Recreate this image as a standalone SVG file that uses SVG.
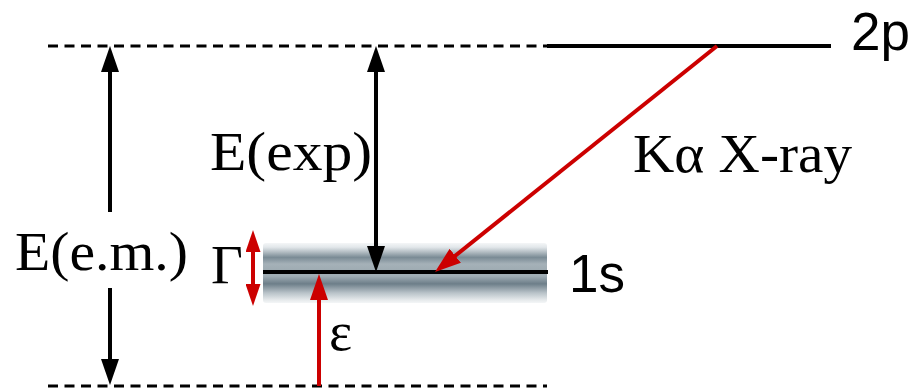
<svg xmlns="http://www.w3.org/2000/svg" width="919" height="390" viewBox="0 0 919 390">
<style>
.dash{stroke:#000;stroke-width:3;stroke-dasharray:10 6.5;fill:none}
.lvl{stroke:#000;stroke-width:4;fill:none}
.blk{stroke:#000;stroke-width:4;fill:none}
.red{stroke:#cc0000;stroke-width:4;fill:none}
.serif{font-family:"Liberation Serif","Times New Roman",serif;font-size:55px;fill:#000}
.sans{font-family:"Liberation Sans",Arial,sans-serif;font-size:53px;fill:#000}
</style>
<defs>
<marker id="ab" markerUnits="userSpaceOnUse" markerWidth="26" markerHeight="18" viewBox="0 0 26 18" refX="16" refY="9" orient="auto-start-reverse"><path d="M0,0 L26,9 L0,18 z" fill="#000"/></marker>
<marker id="ar" markerUnits="userSpaceOnUse" markerWidth="26" markerHeight="18" viewBox="0 0 26 18" refX="16" refY="9" orient="auto-start-reverse"><path d="M0,0 L26,9 L0,18 z" fill="#cc0000"/></marker>
<marker id="ars" markerUnits="userSpaceOnUse" markerWidth="22" markerHeight="15" viewBox="0 0 22 15" refX="12" refY="7.5" orient="auto-start-reverse"><path d="M0,0 L22,7.5 L0,15 z" fill="#cc0000"/></marker>
<linearGradient id="band" x1="0" y1="0" x2="0" y2="1">
<stop offset="0" stop-color="#f4f6f7"/>
<stop offset="0.07" stop-color="#e2e7ea"/>
<stop offset="0.15" stop-color="#b3bdc3"/>
<stop offset="0.24" stop-color="#7a8b95"/>
<stop offset="0.35" stop-color="#a5b1b8"/>
<stop offset="0.46" stop-color="#9eabb2"/>
<stop offset="0.55" stop-color="#a0adb4"/>
<stop offset="0.68" stop-color="#6d7e89"/>
<stop offset="0.83" stop-color="#b8c2c8"/>
<stop offset="0.95" stop-color="#e6eaec"/>
<stop offset="1" stop-color="#f4f6f7"/>
</linearGradient>
</defs>

<g id="band-1s">
<rect x="263" y="243" width="284" height="60" rx="3" fill="url(#band)"/>
</g>

<g id="levels">
<line id="dash-top" class="dash" x1="48" y1="46" x2="547" y2="46"/>
<line id="dash-bottom" class="dash" x1="48" y1="386" x2="547" y2="386"/>
<line id="level-2p" class="lvl" x1="547" y1="46" x2="831" y2="46"/>
<line id="level-1s" class="lvl" x1="263" y1="272" x2="548" y2="272"/>
</g>

<g id="connectors">
<line class="blk" x1="110" y1="212" x2="110" y2="56" marker-end="url(#ab)"/>
<line class="blk" x1="110" y1="288" x2="110" y2="375" marker-end="url(#ab)"/>
<line class="blk" x1="376" y1="56" x2="376" y2="262" marker-start="url(#ab)" marker-end="url(#ab)"/>
<line class="red" x1="717" y1="46" x2="442.8" y2="265.75" marker-end="url(#ar)"/>
<line class="red" x1="319" y1="386" x2="319" y2="284" marker-end="url(#ar)"/>
<line class="red" x1="253" y1="240" x2="253" y2="296" marker-start="url(#ars)" marker-end="url(#ars)"/>
</g>

<g id="labels">
<text id="t-2p" class="sans" x="851" y="50">2p</text>
<text id="t-1s" class="sans" x="569" y="292">1s</text>
<text id="t-exp" class="serif" x="210" y="170" textLength="162" lengthAdjust="spacingAndGlyphs">E(exp)</text>
<text id="t-em" class="serif" x="15" y="270" textLength="173" lengthAdjust="spacingAndGlyphs">E(e.m.)</text>
<text id="t-ka" class="serif" x="633" y="172" textLength="219" lengthAdjust="spacingAndGlyphs">Kα X-ray</text>
<text id="t-gamma" class="serif" x="211" y="283">Γ</text>
<text id="t-eps" class="serif" x="329" y="350">ε</text>
</g>
</svg>
